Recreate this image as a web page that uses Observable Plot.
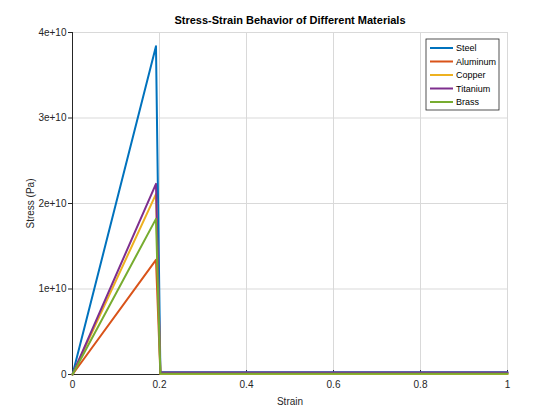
<!DOCTYPE html>
<html>
<head>
<meta charset="utf-8">
<script src="https://cdn.jsdelivr.net/npm/d3@7"></script>
<script src="https://cdn.jsdelivr.net/npm/@observablehq/plot@0.6"></script>
<style>
  body { margin: 0; background: #fff; }
  #chart svg { font-family: "Liberation Sans", Arial, sans-serif; }
</style>
</head>
<body>
<div id="chart"></div>
<script>
// values
const materials = ["Steel", "Aluminum", "Copper", "Titanium", "Brass"];
const colors = ["#0072BD", "#D95319", "#EDB120", "#7E2F8E", "#77AC30"];
const strainPts = [0, 0.1919, 0.2020, 1];
const peakStress = [3.84e10, 1.34e10, 2.11e10, 2.23e10, 1.82e10];
const plateauStress = [2.5e8, 9.5e7, 7e7, 2.4e8, 1e8];
const xTicks = [0, 0.2, 0.4, 0.6, 0.8, 1];
const yTicks = [0, 1e10, 2e10, 3e10, 4e10];
const yTickLabels = ["0", "1e+10", "2e+10", "3e+10", "4e+10"];

let rows = [];
materials.forEach((m, i) => {
  let s = [0, peakStress[i], plateauStress[i], plateauStress[i]];
  strainPts.forEach((x, j) => rows.push({material: m, strain: x, stress: s[j]}));
});

let chart = Plot.plot({
  width: 560,
  height: 420,
  marginLeft: 72,
  marginRight: 53,
  marginTop: 32,
  marginBottom: 46,
  style: {fontSize: "10px", color: "#262626"},
  x: {domain: [0, 1]},
  y: {domain: [0, 4e10]},
  color: {domain: materials, range: colors},
  marks: [
    Plot.gridX(xTicks, {stroke: "#d9d9d9", strokeOpacity: 1}),
    Plot.gridY(yTicks, {stroke: "#d9d9d9", strokeOpacity: 1}),
    Plot.axisX(xTicks, {tickSize: -4, tickPadding: 10, tickFormat: d => String(d), label: "Strain", labelAnchor: "center", labelArrow: "none", labelOffset: 30, fontSize: 10}),
    Plot.axisY(yTicks, {tickSize: 4, tickPadding: 2, tickFormat: (d, i) => yTickLabels[i], label: "Stress (Pa)", labelAnchor: "center", labelArrow: "none", labelOffset: 46, fontSize: 10}),
    Plot.ruleX([0], {stroke: "#262626"}),
    Plot.ruleY([0], {stroke: "#262626"}),
    Plot.line(rows, {x: "strain", y: "stress", z: "material", stroke: "material", strokeWidth: 2}),
    Plot.text(["Stress-Strain Behavior of Different Materials"], {frameAnchor: "top", dy: -16, fontWeight: "bold", fontSize: 11, fill: "#000"})
  ]
});

// legend box in the top right corner
let svg = d3.select(chart);
let lg = svg.append("g").attr("transform", "translate(426,39)");
lg.append("rect").attr("width", 73).attr("height", 71)
  .attr("fill", "#fff").attr("stroke", "#262626").attr("stroke-width", 0.8);
materials.forEach((m, i) => {
  let y = 9 + i * 13.5;
  lg.append("line").attr("x1", 4).attr("x2", 27).attr("y1", y).attr("y2", y)
    .attr("stroke", colors[i]).attr("stroke-width", 2);
  lg.append("text").attr("x", 30).attr("y", y).attr("dy", "0.35em")
    .attr("text-anchor", "start")
    .attr("font-size", 9).attr("fill", "#000").text(m);
});

d3.select("#chart").append(() => chart);
</script>
</body>
</html>
